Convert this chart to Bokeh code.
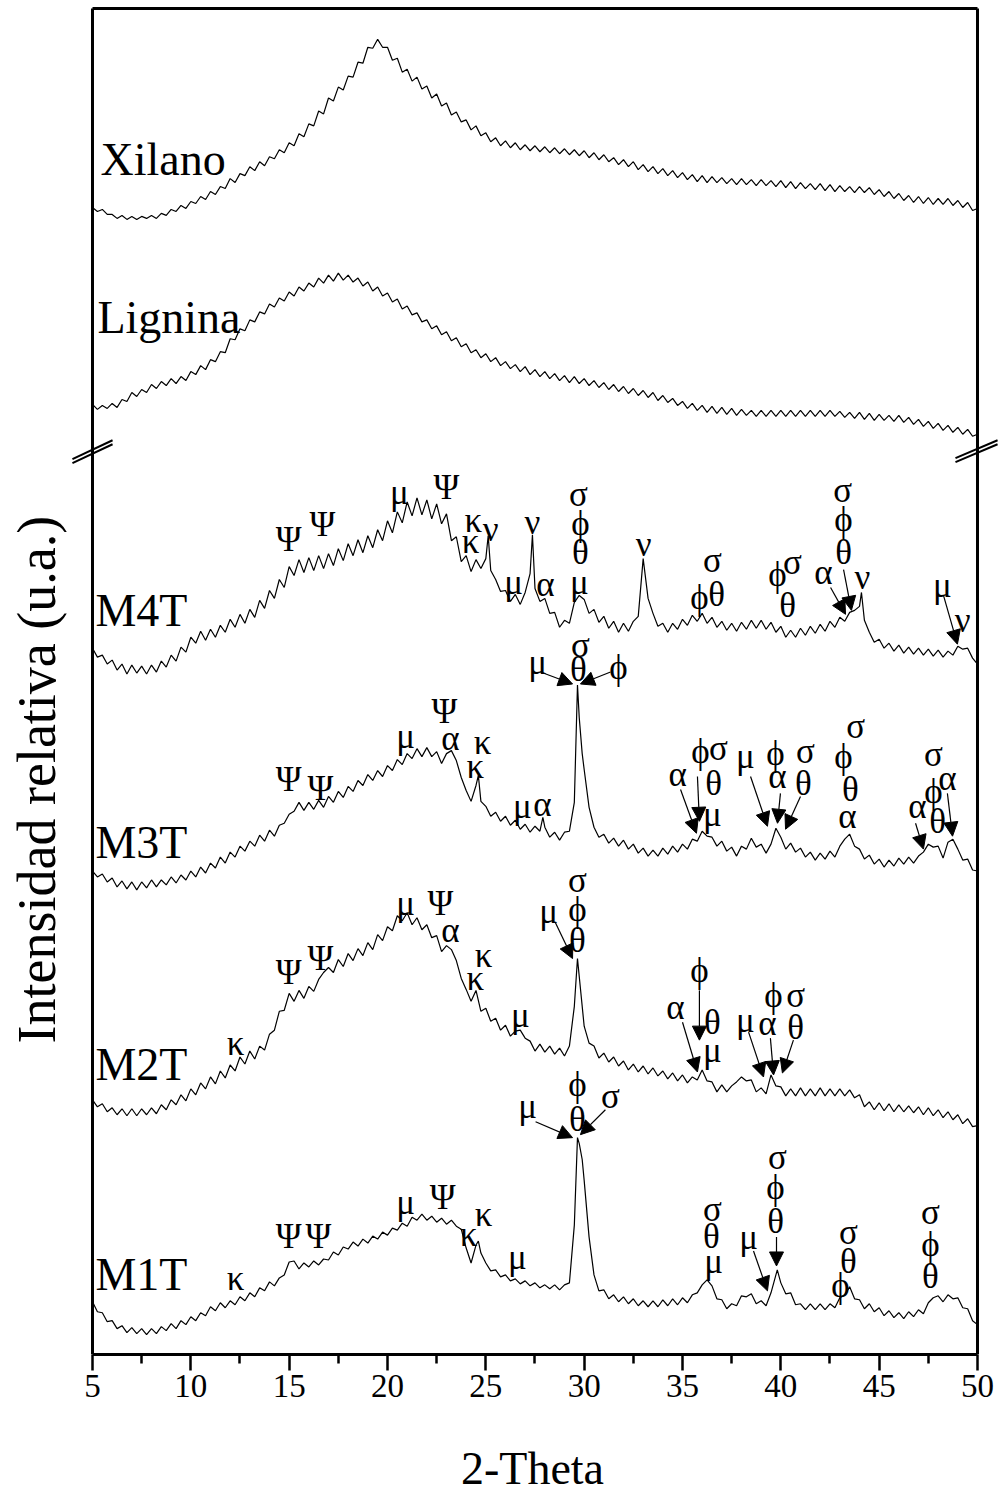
import numpy as np
from bokeh.plotting import figure
from bokeh.models import Range1d, FixedTicker, Arrow, NormalHead, ColumnDataSource, Title
from bokeh.core.properties import value
from bokeh.embed import file_html
from bokeh.resources import INLINE

# 2-theta sampling grid (degrees)
tth = np.arange(5.0, 50.001, 0.25)

# Stacked (offset) relative intensities, one row per degree
xilano = [
 1153,1149,1151,1146, 1146,1142,1145,1141, 1144,1141,1144,1142, 1145,1142,1147,1145,
 1151,1149,1155,1152, 1159,1157,1164,1161, 1169,1166,1174,1172, 1182,1178,1187,1185,
 1194,1190,1199,1195, 1204,1202,1211,1208, 1218,1215,1227,1224, 1237,1235,1250,1247,
 1263,1260,1274,1271, 1285,1284,1299,1298, 1314,1313,1322,1314, 1314,1301,1303,1289,
 1292,1280,1284,1272, 1275,1263,1267,1255, 1258,1246,1249,1239, 1241,1231,1235,1225,
 1228,1219,1223,1215, 1220,1213,1218,1211, 1216,1210,1215,1209, 1214,1208,1213,1207,
 1212,1206,1211,1205, 1210,1203,1208,1201, 1206,1199,1203,1196, 1201,1194,1199,1191,
 1196,1189,1194,1187, 1192,1185,1190,1183, 1188,1181,1186,1179, 1185,1178,1184,1178,
 1183,1177,1182,1176, 1182,1176,1181,1175, 1181,1175,1180,1174, 1180,1173,1179,1172,
 1178,1172,1177,1171, 1177,1170,1176,1169, 1175,1169,1174,1168, 1174,1168,1173,1166,
 1171,1164,1169,1162, 1167,1160,1165,1158, 1164,1157,1163,1156, 1162,1156,1162,1155,
 1160,1153,1158,1150, 1152]
lignina = [
 955,950,954,951, 956,952,960,958, 967,963,970,967, 975,971,978,974,
 981,976,983,979, 988,985,994,990, 1000,998,1008,1007, 1021,1020,1031,1029,
 1040,1038,1048,1046, 1056,1053,1062,1059, 1068,1064,1073,1069, 1077,1073,1082,1077,
 1085,1079,1087,1080, 1085,1078,1082,1074, 1078,1069,1073,1064, 1067,1058,1061,1051,
 1054,1045,1047,1038, 1040,1031,1034,1025, 1028,1019,1022,1013, 1016,1007,1010,1002,
 1006,998,1002,994, 998,991,995,988, 993,985,990,983, 988,981,986,979,
 984,977,983,976, 981,974,979,972, 977,970,975,968, 973,966,971,964,
 969,962,967,959, 964,957,961,954, 958,951,956,949, 954,947,953,946,
 952,945,951,944, 950,944,949,943, 949,943,949,943, 949,943,949,943,
 949,943,949,943, 949,943,949,943, 948,942,947,941, 947,940,946,939,
 945,939,944,938, 944,937,942,935, 940,933,938,931, 936,929,934,927,
 932,925,930,923, 925]
m4t = [
 710,701,703,694, 698,688,694,684, 693,685,692,684, 693,686,697,691,
 703,697,711,706, 721,715,727,718, 729,721,733,726, 739,731,744,735,
 749,741,758,750, 768,760,779,771, 792,783,799,786, 801,788,803,790,
 805,793,810,798, 815,803,819,806, 823,811,829,818, 838,826,847,836,
 857,843,861,844, 859,840,855,835, 845,818,822,797, 803,787,799,790,
 800,788,779,767, 768,757,764,754, 766,785,770,757, 760,745,746,731,
 738,735,756,763, 759,745,749,736, 742,730,737,726, 735,727,737,742,
 800,760,745,732, 735,726,735,729, 739,733,743,737, 745,735,741,731,
 737,728,735,727, 736,729,738,730, 738,729,736,726, 732,721,728,721,
 730,723,732,725, 734,727,737,731, 741,737,746,748, 752,738,726,716,
 719,710,715,707, 713,705,711,704, 710,703,709,702, 708,701,707,703,
 712,709,710,700, 694]
m4t_pk_x = [25.12, 27.37, 44.10]
m4t_pk_y = [823, 824, 766]
m3t = [
 486,480,483,475, 479,470,476,468, 475,467,475,469, 477,470,477,472,
 480,474,482,477, 486,480,490,484, 494,489,500,494, 505,500,511,506,
 516,511,522,516, 527,521,532,534, 543,546,555,547, 555,548,557,550,
 561,555,566,560, 571,566,577,572, 583,577,587,581, 592,587,598,593,
 604,599,609,601, 610,601,606,594, 604,607,597,580, 567,556,572,556,
 551,541,545,536, 541,532,537,528, 533,525,531,526, 530,520,525,517,
 525,526,555,640, 588,550,530,520, 523,514,519,511, 517,508,513,504,
 509,501,507,501, 509,503,511,505, 513,508,518,516, 526,521,520,511,
 516,506,510,501, 511,508,519,510, 513,504,513,529, 520,508,514,505,
 509,500,505,497, 504,498,506,500, 511,518,523,511, 508,498,502,493,
 498,490,497,491, 499,493,500,494, 501,505,513,510, 511,499,515,518,
 508,497,498,487, 486]
m3t_pk_x = [24.62, 27.90, 29.66, 29.90]
m3t_pk_y = [582, 540, 673, 604]
m2t = [
 256,249,252,244, 248,241,247,240, 247,240,247,241, 248,242,251,246,
 256,251,261,255, 267,261,273,267, 279,272,285,278, 291,285,299,292,
 305,297,310,306, 322,326,345,346, 363,355,366,358, 370,365,377,384,
 389,384,397,390, 403,396,408,401, 414,407,422,416, 430,426,441,436,
 444,432,439,427, 432,419,421,405, 411,407,396,378, 367,355,366,345,
 348,335,338,326, 331,320,325,326, 318,315,305,312, 304,310,302,308,
 300,310,350,380, 330,313,310,298, 303,294,299,290, 295,286,292,284,
 290,282,288,280, 285,277,283,275, 281,273,279,276, 286,275,274,264,
 271,264,270,274, 279,275,276,264, 268,262,281,270, 269,260,267,260,
 268,260,267,260, 268,260,267,260, 267,260,266,258, 261,249,254,246,
 253,245,252,244, 251,244,250,243, 249,241,248,240, 246,238,244,236,
 241,232,237,229, 230]
m2t_pk_x = [29.66]
m2t_pk_y = [398]
m1t = [
 53,43,42,33, 34,26,29,22, 27,21,26,20, 26,21,28,24,
 31,26,34,30, 38,34,42,39, 48,44,52,47, 54,50,58,54,
 62,58,67,64, 73,69,77,80, 93,94,86,92, 88,94,90,96,
 95,103,100,108, 106,113,109,116, 112,119,116,123, 120,127,125,132,
 129,138,135,141, 135,139,133,137, 131,135,129,126, 107,92,110,102,
 92,84,85,78, 80,74,76,71, 74,69,72,67, 70,66,70,65,
 70,72,130,212, 175,118,80,64, 65,56,60,53, 58,51,56,49,
 54,48,54,48, 55,49,56,50, 57,52,60,62, 70,75,69,56,
 55,46,51,49, 59,58,61,51, 54,49,62,80, 72,61,62,50,
 51,45,51,45, 51,45,51,47, 57,60,68,56, 55,46,51,43,
 47,39,44,37, 42,36,43,38, 45,41,52,57, 59,53,60,56,
 57,47,46,34, 30]
m1t_pk_x = [24.62, 29.66, 29.90, 39.82]
m1t_pk_y = [114, 218, 196, 85]

sample_names = ["Xilano", "Lignina", "M4T", "M3T", "M2T", "M1T"]
name_x = [5.41, 5.25, 5.15, 5.15, 5.15, 5.15]
name_y = [1201, 1042, 748, 515, 292, 80]

x_ticks = [5, 10, 15, 20, 25, 30, 35, 40, 45, 50]
x_minor = [7.5, 12.5, 17.5, 22.5, 27.5, 32.5, 37.5, 42.5, 47.5]
x_lo, x_hi = 5, 50          # 2-theta span of the box
y_top = 1353                # top of the box (stacked intensity units)

# phase labels (text, 2-theta, stacked height)
ann = [
 ("Ψ",14.97,819),("Ψ",16.69,834),("μ",20.61,866),("Ψ",23.0,872),("κ",24.37,838),("κ",24.22,817),
 ("ν",25.24,829),("ν",27.37,836),("μ",26.41,776),("α",28.03,774),("σ",29.71,864),("ϕ",29.81,835),
 ("θ",29.81,806),("μ",29.76,776),("ν",33.02,814),("σ",36.52,798),("ϕ",35.86,761),("θ",36.73,764),
 ("ϕ",39.83,784),("σ",40.59,796),("θ",40.34,753),("α",42.17,786),("σ",43.14,868),("ϕ",43.19,839),
 ("θ",43.19,806),("ν",44.15,781),("μ",48.22,773),("ν",49.24,738),
 ("μ",27.63,696),("σ",29.81,713),("θ",29.71,689),("ϕ",31.75,691),
 ("Ψ",14.97,578),("Ψ",16.59,569),("μ",20.92,621),("Ψ",22.90,646),("α",23.20,619),("κ",24.83,615),
 ("κ",24.47,591),("μ",26.86,551),("α",27.88,553),("α",34.75,583),("ϕ",35.91,606),("σ",36.83,609),
 ("θ",36.58,574),("μ",36.52,543),("μ",38.20,601),("ϕ",39.73,604),("α",39.83,581),("σ",41.25,606),
 ("θ",41.15,574),("σ",43.80,631),("ϕ",43.19,601),("θ",43.54,568),("α",43.39,541),("σ",47.76,603),
 ("α",48.47,579),("ϕ",47.76,566),("α",46.95,551),("θ",47.97,536),
 ("κ",12.27,313),("Ψ",14.97,384),("Ψ",16.59,398),("μ",20.92,453),("Ψ",22.69,453),("α",23.20,426),
 ("κ",24.88,401),("κ",24.47,378),("μ",26.76,341),("σ",29.66,476),("ϕ",29.66,447),("θ",29.66,416),
 ("μ",28.19,445),("α",34.64,349),("ϕ",35.86,386),("θ",36.52,334),("μ",36.52,306),("μ",38.20,336),
 ("ϕ",39.63,361),("σ",40.75,361),("α",39.32,333),("θ",40.75,329),
 ("κ",12.27,76),("Ψ",14.97,119),("Ψ",16.49,119),("μ",20.92,153),("Ψ",22.80,158),("κ",24.88,141),
 ("κ",24.12,121),("μ",26.61,98),("ϕ",29.66,271),("θ",29.66,236),("μ",27.12,249),("σ",31.34,259),
 ("σ",36.52,146),("θ",36.47,119),("μ",36.58,93),("μ",38.36,118),("σ",39.83,198),("ϕ",39.73,168),
 ("θ",39.73,134),("σ",43.44,123),("θ",43.44,93),("ϕ",43.03,69),("σ",47.61,143),("ϕ",47.61,111),
 ("θ",47.61,78),
]
ann_text = [a[0] for a in ann]
ann_x = [a[1] for a in ann]
ann_y = [a[2] for a in ann]

arrows = [
 (42.53,771,43.29,744),(43.19,789,43.59,748),(48.27,763,48.98,714),
 (27.78,686,29.41,674),(31.34,686,29.81,674),
 (34.90,568,35.71,524),(35.76,581,35.86,536),(38.46,581,39.32,531),(39.98,564,39.83,534),
 (41.0,561,40.24,528),(48.47,564,48.73,521),(46.85,534,47.25,508),
 (28.54,434,29.41,398),(35.0,334,35.76,284),(35.86,366,35.86,316),(38.36,324,39.12,279),
 (39.47,318,39.63,281),(40.64,316,40.08,283),
 (27.53,234,29.41,218),(31.08,246,29.81,221),(38.61,104,39.32,64),(39.78,118,39.78,89),
]

# axis-break marks (two parallel strokes on each side)
breaks = [
 (3.98,896,6.02,915),(3.98,900,6.02,919),
 (48.88,897,51.02,915),(48.88,901,51.02,919),
]

SERIF = "Liberation Serif"

# frame reaches a little beyond the box so that the break marks can cross its sides
p = figure(width=998, height=1496, output_backend="svg", toolbar_location=None,
           x_range=Range1d(3.678, 51.068), y_range=Range1d(0, 1355),
           min_border_left=66, min_border_right=0, min_border_top=6, min_border_bottom=135)
p.grid.visible = False
p.outline_line_color = None
p.background_fill_color = "white"
p.border_fill_color = "white"

xa = p.xaxis[0]
xa.bounds = (x_lo, x_hi)
xa.ticker = FixedTicker(ticks=x_ticks, minor_ticks=x_minor)
xa.axis_line_width = 3
xa.major_tick_out = 16
xa.major_tick_in = 0
xa.minor_tick_out = 9
xa.minor_tick_in = 0
xa.major_tick_line_width = 2.5
xa.minor_tick_line_width = 2.5
xa.major_label_text_font = SERIF
xa.major_label_text_font_size = "33px"
xa.major_label_text_color = "black"
xa.major_label_standoff = 4
xa.axis_label = "2-Theta"
xa.axis_label_text_font = SERIF
xa.axis_label_text_font_size = "46px"
xa.axis_label_text_font_style = "normal"
xa.axis_label_text_color = "black"
xa.axis_label_standoff = 43

p.yaxis.visible = False
p.add_layout(Title(text="Intensidad relativa (u.a.)", align="left", offset=311, standoff=0,
                   text_font=SERIF, text_font_size="54px", text_font_style="normal",
                   text_color="black"), "left")

# box sides (left, right, top) of the plotting area
p.segment(x0=[x_lo, x_hi, x_lo], y0=[0, 0, y_top], x1=[x_lo, x_hi, x_hi], y1=[y_top, y_top, y_top],
          line_color="black", line_width=3)


def merged(vals, px=(), py=()):
    x = np.concatenate([tth, np.asarray(px, dtype=float)])
    y = np.concatenate([np.asarray(vals, dtype=float), np.asarray(py, dtype=float)])
    o = np.argsort(x, kind="stable")
    return x[o], y[o]

curves = [
    merged(xilano),
    merged(lignina),
    merged(m4t, m4t_pk_x, m4t_pk_y),
    merged(m3t, m3t_pk_x, m3t_pk_y),
    merged(m2t, m2t_pk_x, m2t_pk_y),
    merged(m1t, m1t_pk_x, m1t_pk_y),
]
for cx, cy in curves:
    p.line(cx, cy, line_color="black", line_width=1.2)

p.text(x=name_x, y=name_y, text=sample_names, text_font=value(SERIF),
       text_font_size=value("46px"), text_align="left", text_baseline="alphabetic",
       text_color="black")

p.text(x=ann_x, y=ann_y, text=ann_text, text_font=value(SERIF),
       text_font_size=value("35px"), text_align="center", text_baseline="middle",
       text_color="black")

arr_src = ColumnDataSource(dict(x0=[a[0] for a in arrows], y0=[a[1] for a in arrows],
                                x1=[a[2] for a in arrows], y1=[a[3] for a in arrows]))
p.add_layout(Arrow(end=NormalHead(size=14, fill_color="black", line_color="black", line_width=1),
                   x_start="x0", y_start="y0", x_end="x1", y_end="y1",
                   line_color="black", line_width=1.2, source=arr_src))

p.segment(x0=[b[0] for b in breaks], y0=[b[1] for b in breaks],
          x1=[b[2] for b in breaks], y1=[b[3] for b in breaks],
          line_color="black", line_width=2)

open("out.html", "w").write(file_html(p, INLINE))
